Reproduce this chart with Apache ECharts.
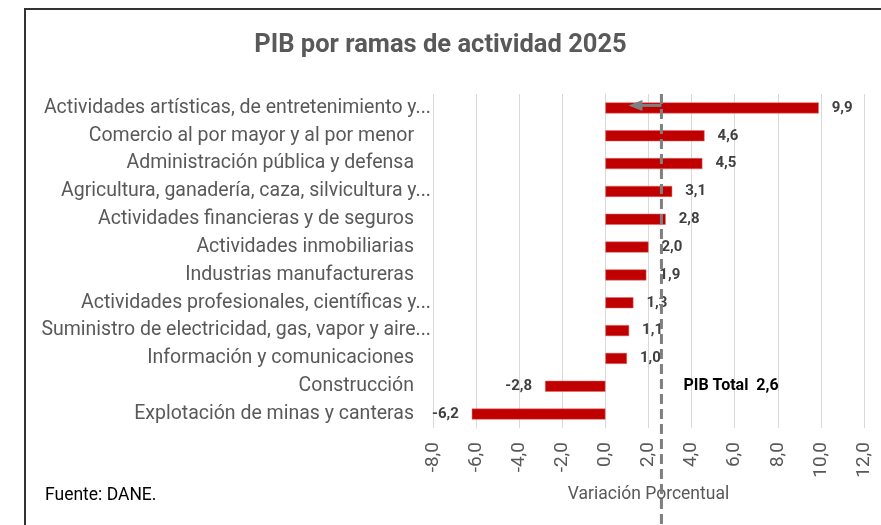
<!DOCTYPE html>
<html>
<head>
<meta charset="utf-8">
<title>PIB por ramas de actividad 2025</title>
<script src="https://cdn.jsdelivr.net/npm/echarts@6/dist/echarts.min.js"></script>
<style>
    html, body { margin: 0; padding: 0; background: #fff; }
    #chart { width: 881px; height: 525px; }
</style>
</head>
<body>
<div id="chart"></div>
<script>
(function (win) {
    // datos
    var categories = [
        'Actividades artísticas, de entretenimiento y...',
        'Comercio al por mayor y al por menor',
        'Administración pública y defensa',
        'Agricultura, ganadería, caza, silvicultura y...',
        'Actividades financieras y de seguros',
        'Actividades inmobiliarias',
        'Industrias manufactureras',
        'Actividades profesionales, científicas y...',
        'Suministro de electricidad, gas, vapor y aire...',
        'Información y comunicaciones',
        'Construcción',
        'Explotación de minas y canteras'
    ];
    var values = [9.9, 4.6, 4.5, 3.1, 2.8, 2.0, 1.9, 1.3, 1.1, 1.0, -2.8, -6.2];
    var xTicks = [-8, -6, -4, -2, 0, 2, 4, 6, 8, 10, 12];
    var pibTotal = 2.6;

    var grey = '#595959';
    var fmt = function (v) {
        return Number(v).toFixed(1).replace('.', ',');
    };

    var chart = echarts.init(document.getElementById('chart'));

    chart.setOption({
        animation: false,
        textStyle: { fontFamily: 'Roboto' },
        title: {
            text: 'PIB por ramas de actividad 2025',
            left: 'center',
            top: 28,
            textStyle: { fontSize: 25.5, fontWeight: 'bold', color: grey }
        },
        grid: { left: 433, right: 17, top: 94, bottom: 97 },
        xAxis: {
            type: 'value',
            min: xTicks[0],
            max: xTicks[xTicks.length - 1],
            interval: xTicks[1] - xTicks[0],
            name: 'Variación Porcentual',
            nameLocation: 'middle',
            nameGap: 51,
            nameTextStyle: { fontSize: 17.5, color: grey },
            axisLine: { show: false },
            axisTick: { show: false },
            axisLabel: { rotate: 90, fontSize: 19, color: grey, margin: 14, formatter: fmt },
            splitLine: { lineStyle: { color: '#d9d9d9', width: 1 } }
        },
        yAxis: {
            type: 'category',
            data: categories,
            inverse: true,
            axisLine: { show: true, lineStyle: { color: '#d9d9d9' } },
            axisTick: { show: false },
            axisLabel: {
                fontSize: 19.5,
                color: grey,
                margin: 2,
                formatter: function (v) {
                    return /\.\.\.$/.test(v) ? '{a|' + v + '}' : '{b|' + v + '}';
                },
                rich: {
                    a: { fontSize: 19.5, color: grey },
                    b: { fontSize: 19.5, color: grey, padding: [0, 17, 0, 0] }
                }
            }
        },
        series: [
            {
                type: 'bar',
                data: values.map(function (v) {
                    return v < 0 ? { value: v, label: { position: 'left' } } : v;
                }),
                barWidth: 11,
                itemStyle: { color: '#c00000', borderColor: '#e06666', borderWidth: 0.5 },
                label: {
                    show: true,
                    position: 'right',
                    distance: 13,
                    fontSize: 15,
                    fontWeight: 'bold',
                    color: '#404040',
                    formatter: function (p) { return fmt(p.value); }
                }
            }
        ]
    });

    // línea PIB total, flecha y texto
    var px = chart.convertToPixel({ xAxisIndex: 0 }, pibTotal);
    var y0 = chart.convertToPixel({ yAxisIndex: 0 }, categories[0]);
    var y1 = chart.convertToPixel({ yAxisIndex: 0 }, categories[1]);
    var band = y1 - y0;
    var yTop = y0 - band / 2;
    var yConst = chart.convertToPixel({ yAxisIndex: 0 }, 'Construcción');
    var ya = y0 - 2.5;

    chart.setOption({
        graphic: [
            {
                type: 'rect',
                silent: true,
                z: -10,
                shape: { x: 25, y: 9, width: 900, height: 600 },
                style: { fill: 'none', stroke: '#333', lineWidth: 2 }
            },
            {
                type: 'line',
                silent: true,
                z: 50,
                shape: { x1: px, y1: yTop, x2: px, y2: 530 },
                style: { stroke: '#7f7f7f', lineWidth: 3, lineDash: [10, 5] }
            },
            {
                type: 'line',
                silent: true,
                z: 50,
                shape: { x1: px, y1: ya, x2: px - 20, y2: ya },
                style: { stroke: '#7f7f7f', lineWidth: 3 }
            },
            {
                type: 'polygon',
                silent: true,
                z: 50,
                shape: { points: [[px - 33, ya], [px - 19, ya - 5.5], [px - 19, ya + 5.5]] },
                style: { fill: '#7f7f7f' }
            },
            {
                type: 'text',
                silent: true,
                z: 50,
                x: px + 22,
                y: yConst,
                style: {
                    text: 'PIB Total  ' + fmt(pibTotal),
                    font: 'bold 16px Roboto',
                    fill: '#000',
                    verticalAlign: 'middle'
                }
            },
            {
                type: 'text',
                silent: true,
                left: 45,
                top: 487,
                style: { text: 'Fuente: DANE.', font: '17.5px Roboto', fill: '#000' }
            }
        ]
    });
})(this);
</script>
</body>
</html>
